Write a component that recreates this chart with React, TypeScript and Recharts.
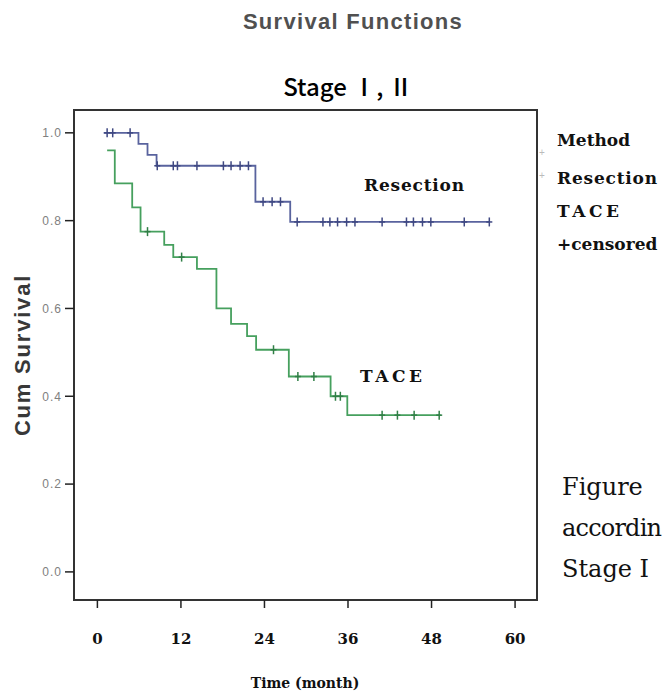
import { ComposedChart, Line, Scatter, XAxis, YAxis, ReferenceArea } from "recharts";

// Kaplan-Meier steps (time in months, cumulative survival)
const resectionTime = [0.9, 5.9, 7.2, 8.5, 22.7, 27.7, 56.4];
const resectionSurv = [1.0, 0.975, 0.95, 0.925, 0.843, 0.797, 0.797];
const resectionCensored = [
  1.4, 2.2, 4.7, 8.6, 10.9, 11.5, 14.3, 18.1, 19.2, 20.5, 21.7, 23.8, 25.1, 26.3,
  28.7, 32.4, 33.4, 34.5, 35.8, 37.0, 40.9, 44.4, 45.4, 46.7, 47.9, 52.7, 56.3,
];

const taceTime = [1.4, 2.5, 5.0, 6.2, 9.6, 10.9, 14.3, 17.1, 19.2, 21.5, 22.8, 27.5, 33.5, 35.9, 49.3];
const taceSurv = [0.96, 0.885, 0.83, 0.775, 0.745, 0.717, 0.69, 0.6, 0.565, 0.537, 0.506, 0.445, 0.4, 0.357, 0.357];
const taceCensored = [7.2, 12.1, 25.3, 28.8, 31.1, 34.2, 34.9, 40.9, 43.1, 45.5, 49.1];

const xTicks = [0, 12, 24, 36, 48, 60];
const yTicks = [0, 0.2, 0.4, 0.6, 0.8, 1.0];
const legendItems = ["Method", "Resection", "TACE", "+censored"];
const legendY = [140, 178, 211, 244];
const captionLines = ["Figure", "accordin", "Stage  Ⅰ"];

const X_DOMAIN: [number, number] = [-3.36, 63.15];
const Y_DOMAIN: [number, number] = [-0.064, 1.052];

const BLUE = "#59639e";
const BLUE_DARK = "#3f4882";
const GREEN = "#46a05e";
const GREEN_DARK = "#307f46";

const steps = (time: number[], surv: number[]) => time.map((t, i) => ({ t, s: surv[i] }));

const survAt = (time: number[], surv: number[], t: number) => {
  let s = surv[0];
  time.forEach((tt, i) => {
    if (tt <= t) s = surv[i];
  });
  return s;
};

const censorPoints = (time: number[], surv: number[], cens: number[]) =>
  cens.map((t) => ({ t, s: survAt(time, surv, t) }));

const resectionData = steps(resectionTime, resectionSurv);
const taceData = steps(taceTime, taceSurv);
const resectionMarks = censorPoints(resectionTime, resectionSurv, resectionCensored);
const taceMarks = censorPoints(taceTime, taceSurv, taceCensored);

const plusShape = (color: string) => (props: any) => {
  const { cx, cy } = props;
  return (
    <g>
      <line x1={cx} x2={cx} y1={cy - 4.5} y2={cy + 4.5} stroke={color} strokeWidth={1.5} />
      <line x1={cx - 3} x2={cx + 3} y1={cy} y2={cy} stroke={color} strokeWidth={1.5} />
    </g>
  );
};

const serif = "'DejaVu Serif', 'Liberation Serif', serif";
const sans = "'Liberation Sans', Arial, sans-serif";

const labelSpacing = (s: string) => (s === "TACE" ? 3.5 : s === "Resection" ? 0.8 : 0);

export default function App() {
  return (
    <div style={{ position: "absolute", left: 0, top: 0, width: 663, height: 693, overflow: "hidden", background: "#fff" }}>
      <ComposedChart
        width={663}
        height={693}
        margin={{ top: 110, right: 126, bottom: 33, left: 14 }}
      >
        <XAxis
          type="number"
          dataKey="t"
          domain={X_DOMAIN}
          ticks={xTicks}
          allowDataOverflow
          height={60}
          axisLine={false}
          tickSize={8}
          tickMargin={25}
          tickLine={{ stroke: "#222", strokeWidth: 1.5 }}
          tick={{ fill: "#111", fontSize: 15, fontFamily: serif, fontWeight: "bold" }}
        />
        <YAxis
          type="number"
          dataKey="s"
          domain={Y_DOMAIN}
          ticks={yTicks}
          allowDataOverflow
          width={60}
          axisLine={false}
          tickSize={9}
          tickMargin={3}
          tickFormatter={(v: number) => v.toFixed(1)}
          tickLine={{ stroke: "#222", strokeWidth: 1.5 }}
          tick={{ fill: "#808080", fontSize: 12, fontFamily: sans, letterSpacing: 1 }}
        />
        <ReferenceArea
          x1={X_DOMAIN[0]}
          x2={X_DOMAIN[1]}
          y1={Y_DOMAIN[0]}
          y2={Y_DOMAIN[1]}
          fill="none"
          stroke="#333"
          strokeWidth={2}
          fillOpacity={0}
        />
        <Line
          data={taceData}
          dataKey="s"
          type="stepAfter"
          stroke={GREEN}
          strokeWidth={1.8}
          dot={false}
          isAnimationActive={false}
        />
        <Line
          data={resectionData}
          dataKey="s"
          type="stepAfter"
          stroke={BLUE}
          strokeWidth={1.8}
          dot={false}
          isAnimationActive={false}
        />
        <Scatter data={taceMarks} dataKey="s" shape={plusShape(GREEN_DARK)} isAnimationActive={false} />
        <Scatter data={resectionMarks} dataKey="s" shape={plusShape(BLUE_DARK)} isAnimationActive={false} />
      </ComposedChart>

      <svg width={663} height={693} style={{ position: "absolute", left: 0, top: 0, pointerEvents: "none" }}>
        <text x={353} y={21} textAnchor="middle" dominantBaseline="central" fontFamily={sans} fontSize={22} fontWeight="bold" letterSpacing={1.3} fill="#505050">
          Survival Functions
        </text>
        <text x={348} y={85} textAnchor="middle" dominantBaseline="central" fontFamily="'Noto Sans CJK KR', sans-serif" fontSize={24} fontWeight={500} fill="#000">
          Stage Ⅰ, Ⅱ
        </text>
        <text
          transform="translate(22,355) rotate(-90)"
          textAnchor="middle"
          dominantBaseline="central"
          fontFamily={sans}
          fontSize={22}
          fontWeight="bold"
          letterSpacing={1.8}
          fill="#383838"
        >
          Cum Survival
        </text>
        <text x={305} y={683} textAnchor="middle" dominantBaseline="central" fontFamily={serif} fontSize={14} fontWeight="bold" fill="#111">
          Time (month)
        </text>
        <text x={364} y={185} dominantBaseline="central" fontFamily={serif} fontSize={17} fontWeight="bold" letterSpacing={0.8} fill="#111">
          Resection
        </text>
        <text x={360} y={376} dominantBaseline="central" fontFamily={serif} fontSize={17} fontWeight="bold" letterSpacing={3.5} fill="#111">
          TACE
        </text>
        {legendItems.map((s, i) => (
          <text key={s} x={557} y={legendY[i]} dominantBaseline="central" fontFamily={serif} fontSize={17} fontWeight="bold" letterSpacing={labelSpacing(s)} fill="#111">
            {s}
          </text>
        ))}
        <text x={542} y={152} textAnchor="middle" dominantBaseline="central" fontFamily={sans} fontSize={10} fill="#bbb">+</text>
        <text x={542} y={175} textAnchor="middle" dominantBaseline="central" fontFamily={sans} fontSize={10} fill="#bbb">+</text>
        {captionLines.map((s, i) => (
          <text key={s} x={562} y={487 + i * 41} dominantBaseline="central" fontFamily={serif} fontSize={24} letterSpacing={s === "accordin" ? -0.8 : 0} fill="#111">
            {s}
          </text>
        ))}
      </svg>
    </div>
  );
}
